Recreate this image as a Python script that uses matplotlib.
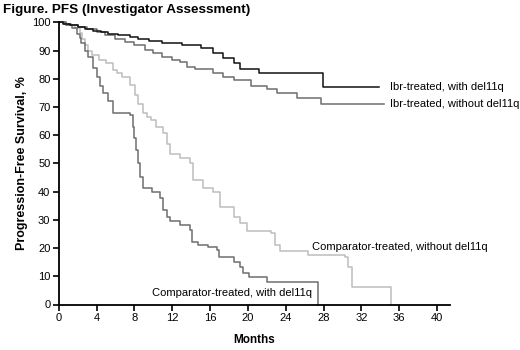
import matplotlib.pyplot as plt

plt.rcParams['font.family'] = ['Liberation Sans', 'DejaVu Sans']

# Kaplan-Meier steps (months, % progression-free)
ibr_del_t = [0, 0.5, 1.2, 2, 2.8, 3.6, 4.5, 5.2, 6.3, 7.5, 8.4, 9.5, 10.9, 13,
             15, 16.3, 17.4, 18.5, 19.2, 21.2, 27.9, 33.9]
ibr_del_s = [100, 99.5, 99, 98.3, 97.6, 97, 96.5, 96, 95.5, 95, 94, 93.5, 92.7, 92,
             90.8, 89, 87.3, 85.5, 83.4, 82, 77, 77]

ibr_nodel_t = [0, 0.6, 1.3, 2, 3, 4, 4.9, 5.9, 7, 8, 9.1, 10, 10.9, 12, 12.8, 13.6,
               14.4, 16.3, 17.4, 18.5, 20.3, 22, 23.1, 25.2, 27.7, 34.4]
ibr_nodel_s = [100, 99.5, 99, 98.3, 97.5, 96.5, 95.6, 94, 93, 92, 90.3, 89, 87.8, 86.7,
               85.9, 84.2, 83.5, 82, 80.5, 79.5, 77.5, 76.3, 75, 73.1, 71, 71]

comp_del_t = [0, 0.8, 1.4, 1.9, 2.2, 2.4, 2.8, 3.1, 3.6, 4, 4.4, 4.7, 5.2, 5.7, 7.5,
              7.8, 8.0, 8.2, 8.4, 8.6, 8.9, 9.9, 10.7, 11, 11.4, 11.8, 12.8, 13.9,
              14.1, 14.7, 15.8, 16.7, 16.9, 18.5, 19.2, 19.5, 20.1, 22, 27.4]
comp_del_s = [100, 99, 98, 96, 94.5, 92.7, 90, 87.8, 84, 80.7, 77.5, 75, 72, 68, 67.2,
              63, 59, 54.8, 50, 45.2, 41.3, 39.9, 37.8, 33.5, 31, 29.5, 28.2, 26.5,
              22.2, 21.1, 20.4, 19.3, 16.8, 15.1, 13.3, 11.2, 9.6, 8, 0]

comp_nodel_t = [0, 0.8, 1.7, 2.2, 2.5, 2.8, 3.1, 3.5, 4.3, 5.0, 5.7, 6.2, 6.7, 7.5,
                8.1, 8.4, 8.9, 9.3, 9.7, 10.3, 11, 11.4, 11.8, 12.8, 13.9, 14.2, 15.3,
                16.3, 17.1, 18.5, 19.2, 19.9, 22.4, 22.9, 23.4, 26.3, 30.3, 30.6, 31,
                35.1]
comp_nodel_s = [100, 99, 98, 96.3, 94, 92, 90, 88.5, 86.7, 85.6, 83, 82, 80.7, 77.8,
                74.3, 71, 67.9, 66.5, 65.4, 63, 60.8, 57, 53.5, 52, 50.2, 44, 41.3,
                39.9, 34.6, 31, 28.9, 26, 25.4, 21.1, 18.8, 17.6, 16.8, 13.3, 6.2, 0]

x_ticks = [0, 4, 8, 12, 16, 20, 24, 28, 32, 36, 40]
y_ticks = [0, 10, 20, 30, 40, 50, 60, 70, 80, 90, 100]

fig = plt.figure(figsize=(5.2, 3.5), dpi=100)
ax = fig.add_axes([0.113, 0.13, 0.753, 0.806])

ax.step(comp_nodel_t, comp_nodel_s, where='post', color='#bdbdbd', lw=1.1, clip_on=False)
ax.step(comp_del_t, comp_del_s, where='post', color='#6e6e6e', lw=1.1, clip_on=False)
ax.step(ibr_nodel_t, ibr_nodel_s, where='post', color='#6e6e6e', lw=1.1, clip_on=False)
ax.step(ibr_del_t, ibr_del_s, where='post', color='#111111', lw=1.1, clip_on=False)

ax.set_xlim(0, 41.4)
ax.set_ylim(0, 100)
ax.set_xticks(x_ticks)
ax.set_yticks(y_ticks)
for s in ['top', 'right']:
    ax.spines[s].set_visible(False)
for s in ['left', 'bottom']:
    ax.spines[s].set_linewidth(1.3)
ax.tick_params(direction='out', length=4, width=1.2, labelsize=8, pad=2)

ax.text(35.0, 77, 'Ibr-treated, with del11q', fontsize=8, va='center')
ax.text(35.0, 71, 'Ibr-treated, without del11q', fontsize=8, va='center')
ax.text(26.8, 20.5, 'Comparator-treated, without del11q', fontsize=8, va='center')
ax.text(9.9, 4, 'Comparator-treated, with del11q', fontsize=8, va='center')

ax.set_xlabel('Months', fontsize=8.5, fontweight='bold', labelpad=8)
ax.set_ylabel('Progression-Free Survival, %', fontsize=9, fontweight='bold', labelpad=3)
fig.text(0.006, 0.97, 'Figure. PFS (Investigator Assessment)', fontsize=9.7,
         fontweight='bold', va='center')

fig.savefig('out.png', dpi=100)
